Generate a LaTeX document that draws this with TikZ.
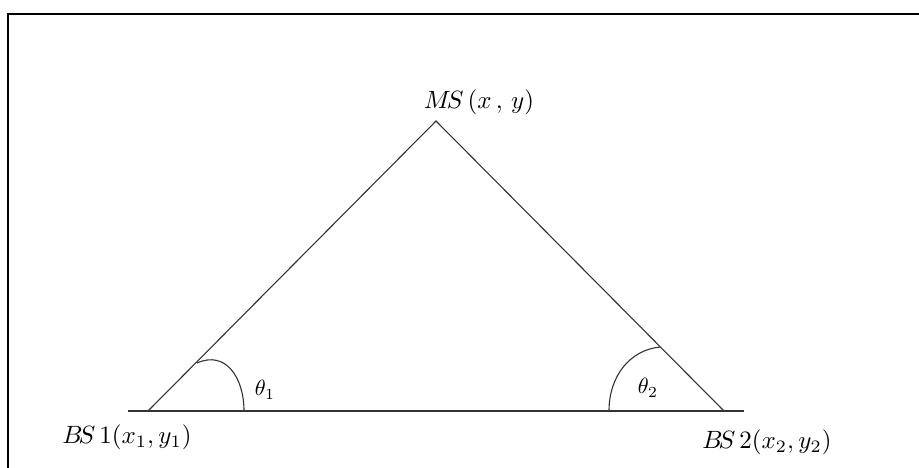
\documentclass[tikz,border=0pt]{standalone}
\begin{document}
\begin{tikzpicture}[x=1pt,y=-1pt,
  edge/.style={line width=1.1pt,draw=black!80},
  base/.style={line width=1.6pt,draw=black!80},
  anglearc/.style={line width=1.1pt,draw=black!80},
  lab/.style={inner sep=0pt},
  anglab/.style={inner sep=0pt}]
\useasboundingbox (0,0) rectangle (919,467);
\begin{scope}
\clip (0,0) rectangle (919,467);
\draw[line width=2pt] (8,14) rectangle (960,520);
\end{scope}
\coordinate (bs1) at (148,411);
\coordinate (bs2) at (724,411);
\coordinate (ms) at (436,121);
\coordinate (bl) at (128,411);
\coordinate (br) at (744,411);
\draw[base] (bl) -- (br);
\draw[edge] (bs1) -- (ms) -- (bs2);
\coordinate (a1s) at (197,363);
\coordinate (a1e) at (244,411);
\coordinate (a2s) at (609,411);
\coordinate (a2e) at (660,347);
\draw[anglearc] (a1s) .. controls (226,350) and (244,378) .. (a1e);
\draw[anglearc] (a2s) .. controls (609,376) and (630,350) .. (a2e);
\node[lab] (msl) at (479,102) {\scalebox{2.5}{$M\!S\,(x\,,\,y)$}};
\node[lab] (bs1l) at (127,437) {\scalebox{2.5}{$B\!S\,1(x_1,y_1)$}};
\node[lab] (bs2l) at (767,442) {\scalebox{2.5}{$B\!S\,2(x_2,y_2)$}};
\node[anglab] (t1) at (265,390) {\scalebox{2.2}{$\theta_1$}};
\node[anglab] (t2) at (648,388) {\scalebox{2.2}{$\theta_2$}};
\end{tikzpicture}
\end{document}
